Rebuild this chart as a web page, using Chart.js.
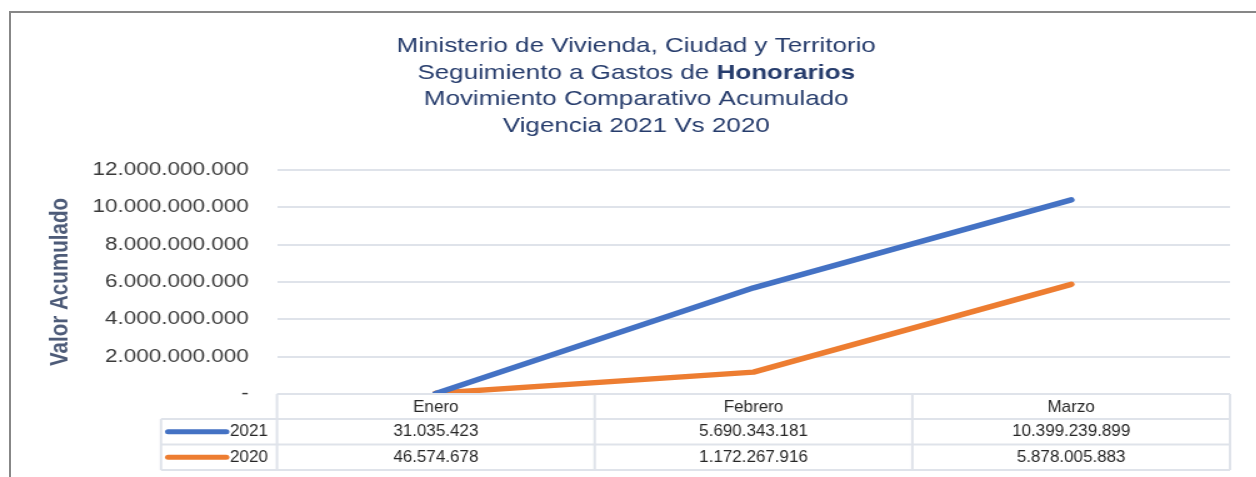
<!DOCTYPE html>
<html lang="es">
<head>
  <meta charset="UTF-8">
  <title>Seguimiento a Gastos de Honorarios</title>
  <script src="https://cdn.jsdelivr.net/npm/chart.js"></script>
  <style>
    html, body {
      margin: 0;
      padding: 0;
      background: #fff;
      overflow: hidden;
    }
    body {
      position: relative;
      width: 1256px;
      height: 477px;
      font-family: 'Liberation Sans', Arial, sans-serif;
    }
    #frame {
      position: absolute;
      left: 9px;
      top: 11px;
      width: 1400px;
      height: 600px;
      border-left: 2px solid #878787;
      border-top: 2px solid #878787;
    }
    /* the source picture is stretched sideways, so the chart is too */
    #wrap {
      position: absolute;
      left: 0;
      top: 0;
      width: 1005px;
      height: 477px;
      transform: scaleX(1.25);
      transform-origin: 0 0;
    }
  </style>
</head>
<body>

  <div id="frame"></div>
  <div id="wrap">
    <canvas id="honorariosChart" width="1005" height="477"></canvas>
  </div>

  <script>
    const STRETCH = 1.25;
    const FONT = "'Liberation Sans', Arial, sans-serif";

    // data
    const months = ['Enero', 'Febrero', 'Marzo'];
    const seriesNames = ['2021', '2020'];
    const values2021 = [31035423, 5690343181, 10399239899];
    const values2020 = [46574678, 1172267916, 5878005883];
    const seriesColors = ['#4472C4', '#ED7D31'];

    const yMin = 0;
    const yMax = 12000000000;
    const yStep = 2000000000;

    const titleLines = [
      [['Ministerio de Vivienda, Ciudad y Territorio', false]],
      [['Seguimiento a Gastos de ', false], ['Honorarios', true]],
      [['Movimiento Comparativo Acumulado', false]],
      [['Vigencia 2021 Vs 2020', false]]
    ];

    // 12000000000 -> 12.000.000.000, 0 -> -
    function fmt(v) {
      if (v === 0) return '-';
      return String(Math.round(v)).replace(/\B(?=(\d{3})+(?!\d))/g, '.');
    }

    // title with one bold word, drawn above the plot
    const titlePlugin = {
      id: 'mixedTitle',
      afterDraw(chart) {
        const ctx = chart.ctx;
        const cx = 509;
        const ys = [46.5, 73, 99.5, 126];
        ctx.save();
        ctx.fillStyle = '#263c6c';
        ctx.textBaseline = 'middle';
        ctx.textAlign = 'left';
        titleLines.forEach((parts, i) => {
          let total = 0;
          parts.forEach(p => {
            ctx.font = (p[1] ? 'bold ' : '') + '20.8px ' + FONT;
            total += ctx.measureText(p[0]).width;
          });
          let x = cx - total / 2;
          parts.forEach(p => {
            ctx.font = (p[1] ? 'bold ' : '') + '20.8px ' + FONT;
            ctx.fillText(p[0], x, ys[i]);
            x += ctx.measureText(p[0]).width;
          });
        });
        ctx.restore();
      }
    };

    // data table under the plot, columns taken from the x scale
    const tablePlugin = {
      id: 'dataTable',
      afterDraw(chart) {
        const ctx = chart.ctx;
        const xs = chart.scales.x;
        const top = chart.chartArea.bottom;
        const rows = [top, top + 25, top + 50.5, top + 76];
        const edges = [];
        for (let i = 0; i <= months.length; i++) edges.push(xs.getPixelForValue(i - 0.5));
        const legendLeft = 128.8;
        const right = edges[edges.length - 1];

        ctx.save();
        ctx.strokeStyle = '#dfe3ea';
        ctx.lineWidth = 2;
        ctx.beginPath();
        ctx.moveTo(edges[0], rows[0]);
        ctx.lineTo(right, rows[0]);
        for (let r = 1; r < rows.length; r++) {
          ctx.moveTo(legendLeft, rows[r]);
          ctx.lineTo(right, rows[r]);
        }
        ctx.moveTo(legendLeft, rows[1]);
        ctx.lineTo(legendLeft, rows[3]);
        edges.forEach(e => {
          ctx.moveTo(e, rows[0]);
          ctx.lineTo(e, rows[3]);
        });
        ctx.stroke();

        function text(str, x, y, align) {
          ctx.save();
          ctx.translate(x, y);
          ctx.scale(1 / STRETCH, 1);
          ctx.font = '17px ' + FONT;
          ctx.fillStyle = '#262626';
          ctx.textAlign = align;
          ctx.textBaseline = 'middle';
          ctx.fillText(str, 0, 0);
          ctx.restore();
        }

        months.forEach((m, i) => {
          text(m, (edges[i] + edges[i + 1]) / 2, (rows[0] + rows[1]) / 2 + 1, 'center');
        });

        chart.data.datasets.forEach((ds, s) => {
          const cy = (rows[s + 1] + rows[s + 2]) / 2;
          ctx.strokeStyle = ds.borderColor;
          ctx.lineWidth = 5;
          ctx.lineCap = 'round';
          ctx.beginPath();
          ctx.moveTo(134.5, cy);
          ctx.lineTo(181, cy);
          ctx.stroke();
          text(ds.label, 184, cy, 'left');
          ds.data.forEach((v, i) => {
            text(fmt(v), (edges[i] + edges[i + 1]) / 2, cy, 'center');
          });
        });
        ctx.restore();
      }
    };

    const ctx = document.getElementById('honorariosChart').getContext('2d');
    new Chart(ctx, {
      type: 'line',
      data: {
        labels: months,
        datasets: [
          {
            label: seriesNames[0],
            data: values2021,
            borderColor: seriesColors[0],
            backgroundColor: seriesColors[0],
            borderWidth: 5.5,
            borderCapStyle: 'round',
            borderJoinStyle: 'round',
            pointRadius: 0,
            tension: 0
          },
          {
            label: seriesNames[1],
            data: values2020,
            borderColor: seriesColors[1],
            backgroundColor: seriesColors[1],
            borderWidth: 5.5,
            borderCapStyle: 'round',
            borderJoinStyle: 'round',
            pointRadius: 0,
            tension: 0
          }
        ]
      },
      options: {
        responsive: false,
        animation: false,
        devicePixelRatio: 1,
        layout: {
          padding: { top: 170, bottom: 83, left: 36, right: 21 }
        },
        plugins: {
          legend: { display: false },
          tooltip: { enabled: false },
          title: { display: false }
        },
        scales: {
          x: {
            display: false,
            offset: true
          },
          y: {
            min: yMin,
            max: yMax,
            ticks: {
              stepSize: yStep,
              padding: 22.6,
              color: '#3a3a3a',
              font: { family: FONT, size: 18 },
              callback: v => fmt(v)
            },
            grid: {
              color: '#dfe3ea',
              lineWidth: 2,
              drawTicks: false
            },
            border: { display: false },
            title: {
              display: true,
              text: 'Valor Acumulado',
              color: '#4d5b78',
              padding: 0,
              font: { family: FONT, size: 20.6, weight: 'bold' }
            },
            afterFit(scale) {
              scale.width = 221.6 - 36;
            }
          }
        }
      },
      plugins: [titlePlugin, tablePlugin]
    });
  </script>

</body>
</html>
